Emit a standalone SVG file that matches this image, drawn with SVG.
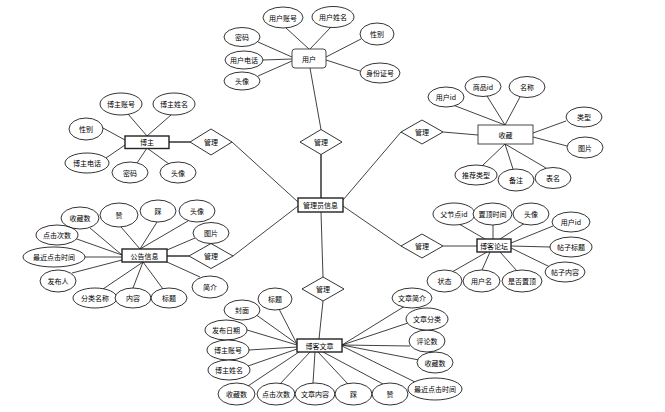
<svg xmlns="http://www.w3.org/2000/svg" width="665" height="412" viewBox="0 0 665 412">
<style>
.bg{fill:#fff}
.attr{fill:#fff;stroke:#000;stroke-width:0.8}
.rel{fill:#fff;stroke:#000;stroke-width:0.8}
.ent{fill:#fff;stroke:#222;stroke-width:1.4}
.ent2{fill:#fff;stroke:#333;stroke-width:0.9}
.ln{stroke:#111;stroke-width:0.8;fill:none}
.lnb{stroke:#666;stroke-width:2;fill:none}
text{font-family:"Noto Sans CJK SC","Noto Sans",sans-serif;font-size:7px;text-anchor:middle;dominant-baseline:central;fill:#000}
</style>
<rect class="bg" x="0" y="0" width="665" height="412"/>
<g id="connectors">
<!-- relationships -->
<line class="ln" x1="310" y1="68" x2="321" y2="129.5"/>
<line class="lnb" x1="321" y1="154.5" x2="321" y2="198"/>
<line class="ln" x1="343" y1="200" x2="401" y2="132"/>
<line class="ln" x1="443" y1="132" x2="478" y2="135"/>
<line class="ln" x1="298" y1="202" x2="232" y2="142"/>
<line class="lnb" x1="190" y1="142" x2="169" y2="142"/>
<line class="ln" x1="298" y1="206" x2="233" y2="256"/>
<line class="lnb" x1="189" y1="256" x2="167" y2="256"/>
<line class="ln" x1="343" y1="206" x2="401" y2="246"/>
<line class="ln" x1="443" y1="246" x2="477" y2="246"/>
<line class="ln" x1="321" y1="212" x2="323" y2="277"/>
<line class="ln" x1="323" y1="301" x2="319" y2="339"/>
<!-- user attrs -->
<line class="ln" x1="286" y1="28" x2="309" y2="49"/>
<line class="ln" x1="331" y1="27" x2="310" y2="49"/>
<line class="ln" x1="258" y1="42" x2="292" y2="57"/>
<line class="ln" x1="263" y1="60" x2="292" y2="59"/>
<line class="ln" x1="258" y1="76" x2="292" y2="61"/>
<line class="ln" x1="361" y1="39" x2="326" y2="57"/>
<line class="ln" x1="360" y1="71" x2="326" y2="60"/>
<!-- shoucang attrs -->
<line class="ln" x1="453" y1="105" x2="505" y2="125"/>
<line class="ln" x1="487" y1="96" x2="505" y2="125"/>
<line class="ln" x1="520" y1="97" x2="505" y2="125"/>
<line class="ln" x1="566" y1="121" x2="533" y2="133"/>
<line class="ln" x1="567" y1="146" x2="533" y2="137"/>
<line class="ln" x1="482" y1="166" x2="505" y2="144"/>
<line class="ln" x1="513" y1="169" x2="505" y2="144"/>
<line class="ln" x1="546" y1="168" x2="505" y2="144"/>
<!-- bozhu attrs -->
<line class="ln" x1="128" y1="114" x2="147" y2="136"/>
<line class="ln" x1="171" y1="115" x2="147" y2="136"/>
<line class="ln" x1="103" y1="128" x2="125" y2="140"/>
<line class="ln" x1="106" y1="158" x2="125" y2="145"/>
<line class="ln" x1="137" y1="163" x2="147" y2="148"/>
<line class="ln" x1="169" y1="164" x2="147" y2="148"/>
<!-- gonggao attrs -->
<line class="ln" x1="90" y1="228" x2="122" y2="255"/>
<line class="ln" x1="121" y1="227" x2="140" y2="249"/>
<line class="ln" x1="157" y1="222" x2="140" y2="249"/>
<line class="ln" x1="188" y1="221" x2="140" y2="249"/>
<line class="ln" x1="195" y1="238" x2="167" y2="250"/>
<line class="ln" x1="74" y1="238" x2="122" y2="255"/>
<line class="ln" x1="85" y1="257" x2="122" y2="257"/>
<line class="ln" x1="72" y1="273" x2="122" y2="260"/>
<line class="ln" x1="103" y1="289" x2="143" y2="262"/>
<line class="ln" x1="133" y1="288" x2="143" y2="262"/>
<line class="ln" x1="163" y1="289" x2="143" y2="262"/>
<line class="ln" x1="200" y1="277" x2="167" y2="262"/>
<!-- luntan attrs -->
<line class="ln" x1="459" y1="224" x2="485" y2="239"/>
<line class="ln" x1="493" y1="225" x2="493" y2="239"/>
<line class="ln" x1="525" y1="223" x2="500" y2="239"/>
<line class="ln" x1="553" y1="226" x2="511" y2="243"/>
<line class="ln" x1="550" y1="247" x2="511" y2="246"/>
<line class="ln" x1="550" y1="267" x2="511" y2="248"/>
<line class="ln" x1="452" y1="272" x2="487" y2="252"/>
<line class="ln" x1="482" y1="270" x2="490" y2="252"/>
<line class="ln" x1="517" y1="271" x2="500" y2="252"/>
<!-- wenzhang attrs -->
<line class="ln" x1="279" y1="309" x2="297" y2="344"/>
<line class="ln" x1="255" y1="314" x2="297" y2="344"/>
<line class="ln" x1="247" y1="330" x2="297" y2="345"/>
<line class="ln" x1="249" y1="350" x2="297" y2="347"/>
<line class="ln" x1="248" y1="366" x2="297" y2="349"/>
<line class="ln" x1="248" y1="386" x2="299" y2="352"/>
<line class="ln" x1="280" y1="384" x2="310" y2="352"/>
<line class="ln" x1="313" y1="383" x2="315" y2="352"/>
<line class="ln" x1="348" y1="384" x2="318" y2="352"/>
<line class="ln" x1="383" y1="384" x2="323" y2="352"/>
<line class="ln" x1="405" y1="306" x2="342" y2="345"/>
<line class="ln" x1="408" y1="323" x2="342" y2="345"/>
<line class="ln" x1="410" y1="346" x2="342" y2="345"/>
<line class="ln" x1="419" y1="360" x2="342" y2="345"/>
<line class="ln" x1="415" y1="382" x2="342" y2="346"/>
</g>
<!-- relationships -->
<g id="rel-user"><polygon class="rel" points="321,129.5 342,142 321,154.5 300,142"/><text x="321" y="142">管理</text></g>
<g id="rel-shoucang"><polygon class="rel" points="422,120 443,132 422,144 401,132"/><text x="422" y="132">管理</text></g>
<g id="rel-bozhu"><polygon class="rel" points="211,129 232,142 211,155 190,142"/><text x="211" y="142">管理</text></g>
<g id="rel-gonggao"><polygon class="rel" points="211,243.5 233,256 211,268.5 189,256"/><text x="211" y="256">管理</text></g>
<g id="rel-luntan"><polygon class="rel" points="422,234 443,246 422,258 401,246"/><text x="422" y="246">管理</text></g>
<g id="rel-wenzhang"><polygon class="rel" points="323,277 344,289 323,301 302,289"/><text x="323" y="289">管理</text></g>
<!-- entities -->
<g id="user"><rect class="ent2" x="292" y="49" width="34" height="19" rx="3"/><text x="309" y="58.5">用户</text></g>
<g id="admin"><rect class="ent" x="298" y="198" width="45" height="14"/><text x="320.5" y="205">管理员信息</text></g>
<g id="shoucang"><rect class="ent2" x="478" y="125" width="55" height="19"/><text x="505.5" y="134.5">收藏</text></g>
<g id="bozhu"><rect class="ent" x="125" y="136" width="44" height="12.5"/><text x="147" y="142.2">博主</text></g>
<g id="gonggao"><rect class="ent" x="122" y="249" width="45" height="13"/><text x="144.5" y="255.5">公告信息</text></g>
<g id="luntan"><rect class="ent" x="477" y="239" width="34" height="13"/><text x="494" y="245.5">博客论坛</text></g>
<g id="wenzhang"><rect class="ent" x="297" y="339" width="45" height="13"/><text x="319.5" y="345.5">博客文章</text></g>
<!-- user attributes -->
<g id="u-zh"><ellipse class="attr" cx="283" cy="17.5" rx="20" ry="10.5"/><text x="283" y="17.5">用户账号</text></g>
<g id="u-xm"><ellipse class="attr" cx="333" cy="17" rx="21" ry="10.5"/><text x="333" y="17">用户姓名</text></g>
<g id="u-mm"><ellipse class="attr" cx="242" cy="37" rx="18" ry="9.5"/><text x="242" y="37">密码</text></g>
<g id="u-dh"><ellipse class="attr" cx="244" cy="60" rx="19" ry="9"/><text x="244" y="60">用户电话</text></g>
<g id="u-tx"><ellipse class="attr" cx="242" cy="81" rx="18" ry="9"/><text x="242" y="81">头像</text></g>
<g id="u-xb"><ellipse class="attr" cx="377" cy="34" rx="17" ry="11"/><text x="377" y="34">性别</text></g>
<g id="u-sfz"><ellipse class="attr" cx="380" cy="73" rx="20" ry="10"/><text x="380" y="73">身份证号</text></g>
<!-- shoucang attributes -->
<g id="s-yhid"><ellipse class="attr" cx="446" cy="97" rx="18" ry="10"/><text x="446" y="97">用户id</text></g>
<g id="s-spid"><ellipse class="attr" cx="483" cy="86.5" rx="18" ry="10"/><text x="483" y="86.5">商品id</text></g>
<g id="s-mc"><ellipse class="attr" cx="527" cy="87" rx="18" ry="10.5"/><text x="527" y="87">名称</text></g>
<g id="s-lx"><ellipse class="attr" cx="584" cy="117" rx="18" ry="10"/><text x="584" y="117">类型</text></g>
<g id="s-tp"><ellipse class="attr" cx="585" cy="147.5" rx="18" ry="10.5"/><text x="585" y="147.5">图片</text></g>
<g id="s-tjlx"><ellipse class="attr" cx="476" cy="175" rx="21" ry="10"/><text x="476" y="175">推荐类型</text></g>
<g id="s-bz"><ellipse class="attr" cx="516" cy="180" rx="18" ry="11"/><text x="516" y="180">备注</text></g>
<g id="s-bm"><ellipse class="attr" cx="553" cy="178" rx="18" ry="10.5"/><text x="553" y="178">表名</text></g>
<!-- bozhu attributes -->
<g id="b-zh"><ellipse class="attr" cx="121" cy="104" rx="21" ry="11"/><text x="121" y="104">博主账号</text></g>
<g id="b-xm"><ellipse class="attr" cx="174" cy="104" rx="21" ry="11"/><text x="174" y="104">博主姓名</text></g>
<g id="b-xb"><ellipse class="attr" cx="86" cy="129" rx="17" ry="11"/><text x="86" y="129">性别</text></g>
<g id="b-dh"><ellipse class="attr" cx="87" cy="163" rx="22" ry="10"/><text x="87" y="163">博主电话</text></g>
<g id="b-mm"><ellipse class="attr" cx="130" cy="172.5" rx="18" ry="10.5"/><text x="130" y="172.5">密码</text></g>
<g id="b-tx"><ellipse class="attr" cx="178" cy="172.5" rx="18" ry="10.5"/><text x="178" y="172.5">头像</text></g>
<!-- gonggao attributes -->
<g id="g-scs"><ellipse class="attr" cx="80" cy="218" rx="19" ry="11"/><text x="80" y="218">收藏数</text></g>
<g id="g-zan"><ellipse class="attr" cx="119" cy="215" rx="19" ry="12"/><text x="119" y="215">赞</text></g>
<g id="g-cai"><ellipse class="attr" cx="158" cy="211" rx="18" ry="11"/><text x="158" y="211">踩</text></g>
<g id="g-tx"><ellipse class="attr" cx="197" cy="211" rx="18" ry="11"/><text x="197" y="211">头像</text></g>
<g id="g-tp"><ellipse class="attr" cx="211" cy="233" rx="18" ry="10.5"/><text x="211" y="233">图片</text></g>
<g id="g-djcs"><ellipse class="attr" cx="57" cy="235" rx="21" ry="10"/><text x="57" y="235">点击次数</text></g>
<g id="g-zjdj"><ellipse class="attr" cx="54" cy="257" rx="31" ry="10"/><text x="54" y="257">最近点击时间</text></g>
<g id="g-fbr"><ellipse class="attr" cx="58" cy="281" rx="18" ry="11"/><text x="58" y="281">发布人</text></g>
<g id="g-flmc"><ellipse class="attr" cx="95" cy="298" rx="22" ry="10"/><text x="95" y="298">分类名称</text></g>
<g id="g-nr"><ellipse class="attr" cx="133" cy="298" rx="18" ry="10"/><text x="133" y="298">内容</text></g>
<g id="g-bt"><ellipse class="attr" cx="169" cy="298" rx="18" ry="10"/><text x="169" y="298">标题</text></g>
<g id="g-jj"><ellipse class="attr" cx="210" cy="287" rx="18" ry="11"/><text x="210" y="287">简介</text></g>
<!-- luntan attributes -->
<g id="l-fjd"><ellipse class="attr" cx="454" cy="214" rx="21" ry="11"/><text x="454" y="214">父节点id</text></g>
<g id="l-zdsj"><ellipse class="attr" cx="492.5" cy="214" rx="19.5" ry="11"/><text x="492.5" y="214">置顶时间</text></g>
<g id="l-tx"><ellipse class="attr" cx="531" cy="214" rx="18" ry="11"/><text x="531" y="214">头像</text></g>
<g id="l-yhid"><ellipse class="attr" cx="571" cy="222" rx="19" ry="10"/><text x="571" y="222">用户id</text></g>
<g id="l-tzbt"><ellipse class="attr" cx="571" cy="247" rx="21" ry="10"/><text x="571" y="247">帖子标题</text></g>
<g id="l-tznr"><ellipse class="attr" cx="565" cy="272" rx="20" ry="10"/><text x="565" y="272">帖子内容</text></g>
<g id="l-zt"><ellipse class="attr" cx="444.5" cy="281" rx="17.5" ry="11"/><text x="444.5" y="281">状态</text></g>
<g id="l-yhm"><ellipse class="attr" cx="481.5" cy="281" rx="18.5" ry="11"/><text x="481.5" y="281">用户名</text></g>
<g id="l-sfzd"><ellipse class="attr" cx="522" cy="281" rx="20" ry="11"/><text x="522" y="281">是否置顶</text></g>
<!-- wenzhang attributes -->
<g id="w-bt"><ellipse class="attr" cx="275" cy="299" rx="17" ry="11"/><text x="275" y="299">标题</text></g>
<g id="w-fm"><ellipse class="attr" cx="242" cy="310" rx="18" ry="10"/><text x="242" y="310">封面</text></g>
<g id="w-fbrq"><ellipse class="attr" cx="226" cy="330" rx="21" ry="10"/><text x="226" y="330">发布日期</text></g>
<g id="w-bzzh"><ellipse class="attr" cx="228" cy="350" rx="21" ry="10"/><text x="228" y="350">博主账号</text></g>
<g id="w-bzxm"><ellipse class="attr" cx="229" cy="370" rx="21" ry="10"/><text x="229" y="370">博主姓名</text></g>
<g id="w-scs"><ellipse class="attr" cx="236.5" cy="394" rx="18.5" ry="11"/><text x="236.5" y="394">收藏数</text></g>
<g id="w-djcs"><ellipse class="attr" cx="276" cy="394" rx="19" ry="11"/><text x="276" y="394">点击次数</text></g>
<g id="w-wznr"><ellipse class="attr" cx="315" cy="394" rx="20" ry="11"/><text x="315" y="394">文章内容</text></g>
<g id="w-cai"><ellipse class="attr" cx="353.5" cy="394" rx="18.5" ry="11"/><text x="353.5" y="394">踩</text></g>
<g id="w-zan"><ellipse class="attr" cx="390" cy="394" rx="18" ry="11"/><text x="390" y="394">赞</text></g>
<g id="w-zjdj"><ellipse class="attr" cx="435" cy="389" rx="27" ry="11"/><text x="435" y="389">最近点击时间</text></g>
<g id="w-scs2"><ellipse class="attr" cx="435" cy="362.5" rx="18" ry="10.5"/><text x="435" y="362.5">收藏数</text></g>
<g id="w-pls"><ellipse class="attr" cx="427" cy="341" rx="18" ry="11"/><text x="427" y="341">评论数</text></g>
<g id="w-wzfl"><ellipse class="attr" cx="427" cy="319" rx="21" ry="11"/><text x="427" y="319">文章分类</text></g>
<g id="w-wzjj"><ellipse class="attr" cx="412" cy="298" rx="20" ry="10"/><text x="412" y="298">文章简介</text></g>
</svg>
